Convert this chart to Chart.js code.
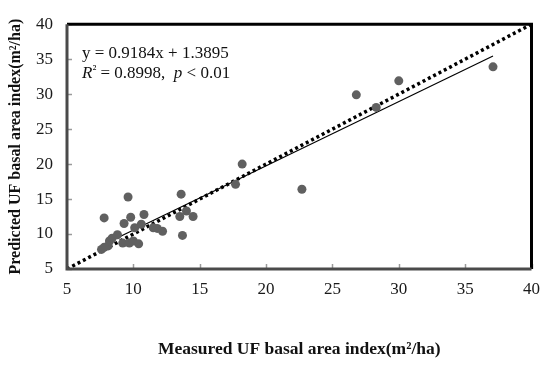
<!DOCTYPE html>
<html>
<head>
<meta charset="utf-8">
<script src="https://cdn.jsdelivr.net/npm/chart.js@4.4.1/dist/chart.umd.min.js"></script>
<style>
  html, body { margin: 0; padding: 0; background: #fff; }
  #wrap { width: 550px; height: 365px; }
</style>
</head>
<body>
<div id="wrap"><canvas id="grafico" width="550" height="365"></canvas></div>
<script>
const medido = [7.6, 7.8, 8.1, 8.2, 8.4, 8.8, 9.2, 9.7, 10.0, 10.4, 9.3, 7.8, 9.8, 9.6, 10.8, 10.1, 10.6,
  11.5, 11.8, 12.2, 13.5, 14.0, 14.5, 13.7, 13.6, 17.7, 18.2, 22.7, 26.8, 28.3, 30.0, 37.1];
const predicho = [7.8, 8.1, 8.3, 9.0, 9.4, 9.9, 8.7, 8.7, 9.0, 8.6, 11.5, 12.3, 12.4, 15.3, 12.8, 10.9, 11.4,
  10.9, 10.8, 10.4, 12.5, 13.3, 12.5, 9.8, 15.7, 17.1, 20.0, 16.4, 29.9, 28.1, 31.9, 33.9];
const ticksEje = [5, 10, 15, 20, 25, 30, 35, 40];

// Ajuste lineal publicado
const pendiente = 0.9184;
const intercepto = 1.3895;

const fuenteSerif = "'Liberation Serif', 'Times New Roman', serif";

const puntos = medido.map((x, i) => ({ x: x, y: predicho[i] }));
const xMin = Math.min(...medido);
const xMax = Math.max(...medido);
const lineaAjuste = [xMin, xMax].map(x => ({ x: x, y: pendiente * x + intercepto }));
const ejeMin = ticksEje[0];
const ejeMax = ticksEje[ticksEje.length - 1];
const lineaUnoAUno = [{ x: ejeMin, y: ejeMin }, { x: ejeMax, y: ejeMax }];

// Marco, marcas interiores y texto de la ecuación
const marcoPlugin = {
  id: 'marco',
  afterDatasetsDraw(chart) {
    const { ctx, chartArea: a, scales } = chart;
    ctx.save();
    // marcas hacia dentro
    ctx.strokeStyle = '#9a9a9a';
    ctx.lineWidth = 1.5;
    ticksEje.forEach(v => {
      const px = Math.round(scales.x.getPixelForValue(v)) + 0.5;
      ctx.beginPath(); ctx.moveTo(px, a.bottom); ctx.lineTo(px, a.bottom - 5); ctx.stroke();
      const py = Math.round(scales.y.getPixelForValue(v)) + 0.5;
      ctx.beginPath(); ctx.moveTo(a.left, py); ctx.lineTo(a.left + 5, py); ctx.stroke();
    });
    // bordes
    ctx.lineWidth = 3;
    ctx.strokeStyle = '#000';
    ctx.beginPath();
    ctx.moveTo(a.left, a.top); ctx.lineTo(a.right, a.top); ctx.lineTo(a.right, a.bottom);
    ctx.stroke();
    ctx.strokeStyle = '#4a4a4a';
    ctx.beginPath();
    ctx.moveTo(a.left, a.top); ctx.lineTo(a.left, a.bottom); ctx.lineTo(a.right, a.bottom);
    ctx.stroke();

    // ecuación
    ctx.fillStyle = '#111';
    ctx.textBaseline = 'alphabetic';
    ctx.textAlign = 'left';
    ctx.font = '17px ' + fuenteSerif;
    const x0 = a.left + 15;
    ctx.fillText('y = ' + pendiente + 'x + ' + intercepto, x0, a.top + 34);
    let x = x0;
    const y2 = a.top + 54;
    const partes = [
      ['italic 17px ', 'R'], ['13px ', '²'], ['17px ', ' = 0.8998,  '],
      ['italic 17px ', 'p'], ['17px ', ' < 0.01']
    ];
    partes.forEach(([f, t]) => {
      ctx.font = f + fuenteSerif;
      const dy = t === '²' ? -5 : 0;
      ctx.fillText(t, x, y2 + dy);
      x += ctx.measureText(t).width;
    });
    ctx.restore();
  }
};

const ctx = document.getElementById('grafico').getContext('2d');
new Chart(ctx, {
  type: 'scatter',
  data: {
    datasets: [
      {
        label: 'UF',
        data: puntos,
        backgroundColor: '#606060',
        borderWidth: 0,
        pointRadius: 4.5
      },
      {
        label: 'Ajuste',
        type: 'line',
        data: lineaAjuste,
        borderColor: '#000',
        borderWidth: 1.2,
        pointRadius: 0,
        fill: false
      },
      {
        label: '1:1',
        type: 'line',
        data: lineaUnoAUno,
        borderColor: '#000',
        borderWidth: 3.5,
        borderDash: [3, 3],
        pointRadius: 0,
        fill: false
      }
    ]
  },
  options: {
    responsive: false,
    animation: false,
    devicePixelRatio: 1,
    layout: { padding: { top: 14, right: 15, left: 0, bottom: 0 } },
    plugins: {
      legend: { display: false },
      tooltip: { enabled: false }
    },
    scales: {
      x: {
        type: 'linear',
        min: ejeMin,
        max: ejeMax,
        afterBuildTicks: s => { s.ticks = ticksEje.map(v => ({ value: v })); },
        afterFit: s => { s.height = 96; },
        grid: { display: false, drawTicks: false },
        border: { display: false },
        ticks: {
          padding: 10,
          color: '#1a1a1a',
          font: { family: fuenteSerif, size: 17 }
        },
        title: {
          display: true,
          text: 'Measured UF basal area index(m²/ha)',
          color: '#111',
          font: { family: fuenteSerif, size: 17.5, weight: 'bold' },
          padding: { top: 0, bottom: 5 }
        }
      },
      y: {
        type: 'linear',
        min: ejeMin,
        max: ejeMax,
        afterBuildTicks: s => { s.ticks = ticksEje.map(v => ({ value: v })); },
        afterFit: s => { s.width = 67; },
        grid: { display: false, drawTicks: false },
        border: { display: false },
        ticks: {
          padding: 14,
          color: '#1a1a1a',
          font: { family: fuenteSerif, size: 17 }
        },
        title: {
          display: true,
          text: 'Predicted UF basal area index(m²/ha)',
          color: '#111',
          font: { family: fuenteSerif, size: 16, weight: 'bold' },
          padding: { top: 6, bottom: 0 }
        }
      }
    }
  },
  plugins: [marcoPlugin]
});
</script>
</body>
</html>
